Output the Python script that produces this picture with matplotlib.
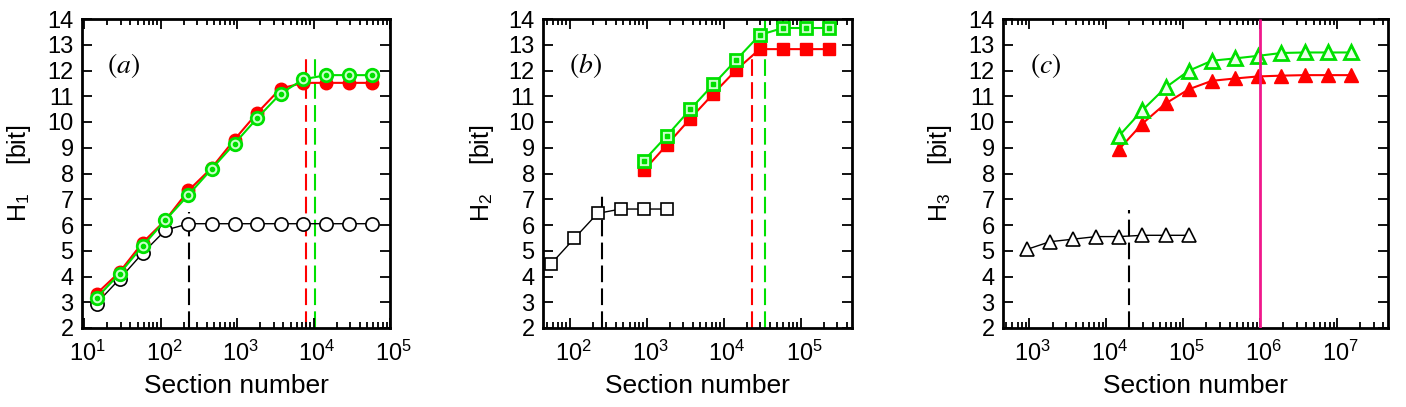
import numpy as np
import matplotlib.pyplot as plt
import matplotlib.transforms as mtransforms
from matplotlib.ticker import LogLocator

# fonts: Helvetica-like for the axes, Times-like math for the panel tags
plt.rcParams['font.family'] = ['Liberation Sans', 'DejaVu Sans']
plt.rcParams['mathtext.fontset'] = 'stix'

# colours
RED = '#ff0000'
GREEN = '#00e000'
LIGHT_GREEN = '#c8ffc8'
PINK = '#f0188c'

# ---------------- data panel (a) ----------------
xa = [14.4, 28.8, 57.6, 115, 230, 461, 922, 1840, 3690, 7370, 14700, 29500, 59000]
ha_black = [2.95, 3.9, 4.9, 5.8, 6.05, 6.05, 6.05, 6.05, 6.05, 6.05, 6.05, 6.05, 6.05]
ha_red = [3.33, 4.17, 5.31, 6.19, 7.34, 8.21, 9.32, 10.36, 11.3, 11.52, 11.52, 11.52, 11.52]
ha_green = [3.16, 4.11, 5.18, 6.19, 7.17, 8.17, 9.16, 10.16, 11.1, 11.66, 11.82, 11.82, 11.82]
# dashed markers (x position, top of the line)
va_x = [232, 7850, 10500]
va_top = [6.5, 12.57, 12.57]

# ---------------- data panel (b) ----------------
xb_black = [57.6, 115, 230, 461, 922, 1840]
hb_black = [4.5, 5.48, 6.45, 6.62, 6.62, 6.62]
xb = [922, 1840, 3690, 7370, 14700, 29500, 59000, 118000, 236000]
hb_red = [8.12, 9.12, 10.13, 11.1, 12.03, 12.83, 12.83, 12.83, 12.83]
hb_green = [8.5, 9.47, 10.49, 11.46, 12.42, 13.38, 13.65, 13.65, 13.65]
vb_x = [262, 23200, 34700]
vb_top = [7.26, 12.6, 14.0]

# ---------------- data panel (c) ----------------
xc_black = [922, 1840, 3690, 7370, 14700, 29500, 59000, 118000]
hc_black = [5.05, 5.35, 5.45, 5.55, 5.55, 5.6, 5.6, 5.6]
xc = [14700, 29500, 59000, 118000, 236000, 472000, 944000, 1890000, 3780000,
      7550000, 15100000]
hc_red = [8.95, 9.94, 10.72, 11.27, 11.6, 11.69, 11.77, 11.8, 11.82, 11.82, 11.82]
hc_green = [9.47, 10.46, 11.34, 11.99, 12.38, 12.47, 12.57, 12.68, 12.7, 12.7, 12.7]
vc_x = [19600]
vc_top = [6.58]
pink_x = [1.0e6]

DASH = (0, (8, 3))

fig = plt.figure(figsize=(14.06, 4.07), dpi=100)

# axes positions in pixels (left, right) -> figure fractions
W, H = 1406.0, 407.0
top_px, bot_px = 19, 328


def make_axes(left, right, xlim):
    ax = fig.add_axes([left / W, (H - bot_px) / H, (right - left) / W,
                       (bot_px - top_px) / H])
    ax.set_xscale('log')
    ax.set_xlim(xlim)
    ax.xaxis.set_major_locator(LogLocator(base=10, numticks=20))
    ax.xaxis.set_minor_locator(LogLocator(base=10, subs=np.arange(2, 10),
                                          numticks=20))
    ax.set_ylim(2, 14)
    ax.set_yticks(range(2, 15))
    ax.tick_params(which='both', direction='in', top=True, right=True,
                   labelsize=17, width=1.3)
    ax.tick_params(which='major', length=7, pad=6)
    ax.tick_params(axis='x', which='major', pad=9)
    ax.tick_params(which='minor', length=4)
    ax.tick_params(axis='y', which='minor', left=False, right=False)
    # the 10^n labels sit a little right of their ticks in the original
    shift = mtransforms.ScaledTranslation(3.5 / 100, 0, fig.dpi_scale_trans)
    for lab in ax.get_xticklabels():
        lab.set_transform(lab.get_transform() + shift)
    for s in ax.spines.values():
        s.set_linewidth(2.0)
    ax.set_xlabel('Section number', fontsize=19, labelpad=6)
    return ax


def dashed(ax, xs, tops, colors):
    # vertical dashed guide lines from the bottom of the frame
    ax.vlines(xs, 2, tops, colors=colors, linestyles=DASH, linewidth=1.5,
              zorder=1)


# ================= panel (a) =================
ax1 = make_axes(82, 390, (9.3, 1.0e5))
dashed(ax1, va_x, va_top, ['black', RED, GREEN])
ax1.plot(xa, ha_black, '-o', color='black', lw=1.0, ms=9.5, mfc='white',
         mec='black', mew=1.2, zorder=3)
ax1.plot(xa, ha_red, '-o', color=RED, lw=1.5, ms=9, mfc=RED, mec=RED, zorder=4)
ax1.plot(xa, ha_green, '-o', color=GREEN, lw=1.5, ms=9, mfc=LIGHT_GREEN,
         mec=GREEN, mew=2.0, zorder=5)
ax1.plot(xa, ha_green, 'o', color=GREEN, ms=3, zorder=6)
ax1.set_ylabel(r'H$_{\mathdefault{1}}$    [bit]', fontsize=18)
ax1.yaxis.set_label_coords(-49 / 308, 0.5)
ax1.text(0.136, 0.848, r'$(a)$', transform=ax1.transAxes, fontsize=20,
         ha='center', va='center')

# ================= panel (b) =================
ax2 = make_axes(543, 852, (45, 4.67e5))
dashed(ax2, vb_x, vb_top, ['black', RED, GREEN])
ax2.plot(xb_black, hb_black, '-s', color='black', lw=1.0, ms=8.5, mfc='white',
         mec='black', mew=1.2, zorder=3)
ax2.plot(xb, hb_red, '-s', color=RED, lw=1.5, ms=8.5, mfc=RED, mec=RED,
         zorder=4)
ax2.plot(xb, hb_green, '-s', color=GREEN, lw=1.5, ms=8.5, mfc=LIGHT_GREEN,
         mec=GREEN, mew=2.0, zorder=5)
ax2.plot(xb, hb_green, 's', color=GREEN, ms=3, zorder=6)
ax2.set_ylabel(r'H$_{\mathdefault{2}}$    [bit]', fontsize=18)
ax2.yaxis.set_label_coords(-47 / 309, 0.5)
ax2.text(0.139, 0.848, r'$(b)$', transform=ax2.transAxes, fontsize=20,
         ha='center', va='center')

# ================= panel (c) =================
ax3 = make_axes(1003, 1388, (453, 4.6e7))
dashed(ax3, vc_x, vc_top, ['black'])
ax3.vlines(pink_x, 2, 14, colors=PINK, linewidth=2.0, zorder=7)
ax3.plot(xc_black, hc_black, '-^', color='black', lw=1.0, ms=10.5,
         mfc='white', mec='black', mew=1.2, zorder=3)
ax3.plot(xc, hc_red, '-^', color=RED, lw=1.5, ms=10.5, mfc=RED, mec=RED,
         zorder=4)
ax3.plot(xc, hc_green, '-^', color=GREEN, lw=1.5, ms=10.5, mfc='#eaffea',
         mec=GREEN, mew=2.0, zorder=5)
ax3.set_ylabel(r'H$_{\mathdefault{3}}$    [bit]', fontsize=18)
ax3.yaxis.set_label_coords(-49 / 385, 0.5)
ax3.text(0.112, 0.848, r'$(c)$', transform=ax3.transAxes, fontsize=20,
         ha='center', va='center')

fig.savefig('out.png', dpi=100)
